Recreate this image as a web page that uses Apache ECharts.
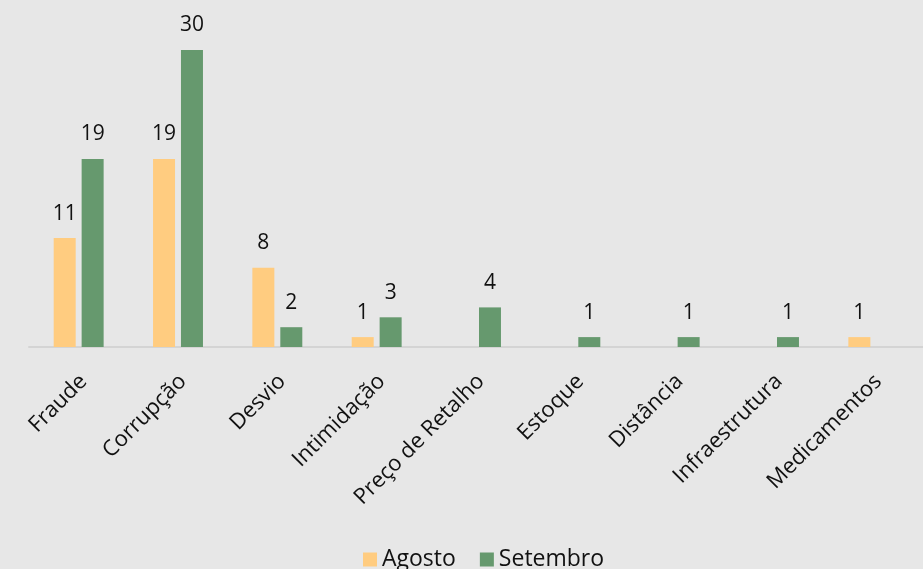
<!DOCTYPE html>
<html>
<head>
<meta charset="utf-8">
<script src="https://cdn.jsdelivr.net/npm/echarts@6/dist/echarts.min.js"></script>
<style>
html,body{margin:0;padding:0;background:#E7E7E7;}
#chart{width:923px;height:569px;}
</style>
</head>
<body>
<div id="chart"></div>
<script>
const categories = ["Fraude","Corrupção","Desvio","Intimidação","Preço de Retalho","Estoque","Distância","Infraestrutura","Medicamentos"];
const agosto = [11,19,8,1,0,0,0,0,1];
const setembro = [19,30,2,3,4,1,1,1,0];
const seriesNames = ["Agosto","Setembro"];

const chart = echarts.init(document.getElementById('chart'));
const font = '"Open Sans", sans-serif';
const labelCfg = {
  show: true, position: 'top', distance: 14,
  color: '#111', fontSize: 21, fontFamily: font,
  formatter: p => p.value === 0 ? '' : p.value
};
chart.setOption({
  backgroundColor: '#E7E7E7',
  animation: false,
  grid: {left: 29, width: 900, top: 50, bottom: 222},
  legend: {
    top: 543, left: 358,
    itemWidth: 14, itemHeight: 14, itemGap: 24,
    icon: 'rect',
    textStyle: {fontSize: 23, color: '#111', fontFamily: font},
    data: seriesNames
  },
  xAxis: {
    type: 'category', data: categories,
    axisLine: {lineStyle: {color: '#D4D4D4', width: 2}},
    axisTick: {show: false},
    axisLabel: {rotate: 45, fontSize: 22, color: '#111', fontFamily: font, margin: 36, interval: 0, padding: [0, -7, 0, 0]}
  },
  yAxis: {type: 'value', min: 0, max: 30, show: false, splitLine: {show: false}},
  series: [
    {name: seriesNames[0], type: 'bar', data: agosto, barWidth: 22, barGap: '27%',
     itemStyle: {color: '#FFCC80'}, label: labelCfg},
    {name: seriesNames[1], type: 'bar', data: setembro, barWidth: 22,
     itemStyle: {color: '#66996E'}, label: labelCfg}
  ]
});
</script>
</body>
</html>
